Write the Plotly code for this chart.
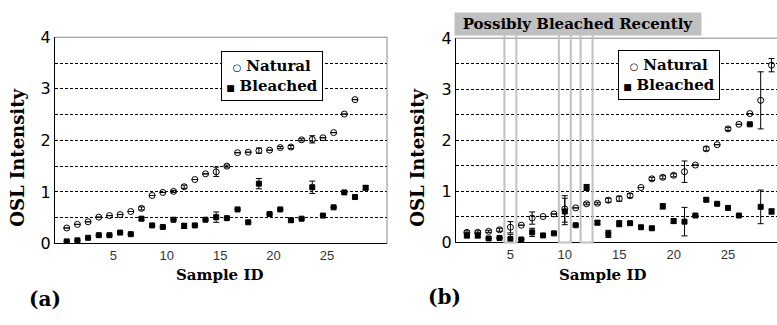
import plotly.graph_objects as go

# ---------------- data ----------------
ids_a_nat = list(range(1, 29))
nat_a = [0.30, 0.37, 0.42, 0.51, 0.54, 0.56, 0.62, 0.68, 0.93, 0.99, 1.01, 1.10, 1.24, 1.35,
         1.39, 1.50, 1.76, 1.77, 1.80, 1.81, 1.86, 1.87, 2.01, 2.02, 2.05, 2.15, 2.51, 2.79]
nat_a_err = [0, 0, 0, 0, 0, 0, 0, 0.03, 0, 0, 0.02, 0.03, 0, 0,
             0.09, 0.02, 0, 0, 0.05, 0, 0.02, 0.03, 0.02, 0.07, 0, 0, 0, 0]

ids_a_ble = list(range(1, 30))
ble_a = [0.04, 0.06, 0.11, 0.16, 0.16, 0.21, 0.18, 0.48, 0.35, 0.32, 0.46, 0.34, 0.35, 0.46,
         0.51, 0.49, 0.66, 0.41, 1.16, 0.57, 0.66, 0.45, 0.48, 1.09, 0.54, 0.70, 0.99, 0.90, 1.08]
ble_a_err = [0, 0, 0, 0, 0, 0, 0, 0.03, 0, 0, 0, 0.05, 0, 0,
             0.10, 0, 0, 0, 0.10, 0, 0, 0.04, 0, 0.12, 0, 0, 0, 0, 0.04]

ids_b = list(range(1, 30))
nat_b = [0.19, 0.19, 0.21, 0.24, 0.29, 0.33, 0.47, 0.50, 0.55, 0.65, 0.67, 0.75, 0.76, 0.82,
         0.85, 0.91, 1.07, 1.24, 1.27, 1.31, 1.38, 1.51, 1.83, 1.91, 2.22, 2.31, 2.52, 2.78, 3.47]
nat_b_err = [0.03, 0.03, 0.02, 0.03, 0.11, 0, 0.12, 0, 0, 0.26, 0, 0.02, 0.02, 0.04,
             0.05, 0.04, 0, 0.03, 0.03, 0.03, 0.21, 0, 0.04, 0, 0.03, 0, 0, 0.56, 0.13]
ble_b = [0.13, 0.13, 0.07, 0.08, 0.06, 0.05, 0.19, 0.13, 0.17, 0.60, 0.33, 1.07, 0.38, 0.16,
         0.36, 0.37, 0.29, 0.27, 0.70, 0.41, 0.40, 0.52, 0.83, 0.75, 0.67, 0.52, 2.31, 0.69, 0.60]
ble_b_err = [0.05, 0.05, 0, 0, 0.09, 0, 0.08, 0, 0, 0.26, 0, 0.06, 0.04, 0.07,
             0.06, 0.03, 0, 0, 0.05, 0.04, 0.28, 0, 0.03, 0, 0, 0, 0, 0.33, 0.05]

series_names = ["Natural", "Bleached"]
recent_samples = [5, 10, 12]
x_ticks = [5, 10, 15, 20, 25]
y_ticks = [0, 0.5, 1, 1.5, 2, 2.5, 3, 3.5, 4]
y_ticktext = ["0", "", "1", "", "2", "", "3", "", "4"]

W, H = 777, 325
SERIF = "DejaVu Serif"
SANS = "DejaVu Sans"

def px(v):
    return v / W

def py(v):
    return (H - v) / H

fig = go.Figure()

def add(x, y, err, name, xa, ya, sym, size):
    fig.add_trace(go.Scatter(
        x=x, y=y, mode="markers", name=name, xaxis=xa, yaxis=ya, showlegend=False,
        marker=dict(symbol=sym, size=size, color="black", line=dict(color="black", width=1)),
        error_y=dict(type="data", array=err, color="black", thickness=1, width=3, visible=True),
    ))

add(ids_a_nat, nat_a, nat_a_err, series_names[0], "x", "y", "circle-open", 6)
add(ids_a_ble, ble_a, ble_a_err, series_names[1], "x", "y", "square", 5)
add(ids_b, nat_b, nat_b_err, series_names[0], "x2", "y2", "circle-open", 6)
add(ids_b, ble_b, ble_b_err, series_names[1], "x2", "y2", "square", 5)

xcommon = dict(tickvals=x_ticks, showgrid=False, zeroline=False, showline=True,
               linecolor="black", linewidth=1, ticks="",
               tickfont=dict(family="Liberation Sans", size=13, color="#333"))
ycommon = dict(range=[0, 4], tickvals=y_ticks, ticktext=y_ticktext, showgrid=True,
               gridcolor="black", gridwidth=1, griddash="3px,2px", zeroline=False,
               showline=True, linecolor="black", linewidth=1, ticks="",
               tickfont=dict(family=SANS, size=16, color="black"))

fig.update_layout(
    width=W, height=H, margin=dict(l=0, r=0, t=0, b=0),
    paper_bgcolor="white", plot_bgcolor="white", showlegend=False,
    xaxis=dict(domain=[px(55), px(387)], range=[-0.1, 31.0], anchor="y",
               ticklabelshift=4, **xcommon),
    yaxis=dict(domain=[py(249), py(30)], anchor="x", **ycommon),
    xaxis2=dict(domain=[px(456), 1.0], range=[0, 29.5], anchor="y2", **xcommon),
    yaxis2=dict(domain=[py(247.5), py(31)], anchor="x2", **ycommon),
)

shapes = []
# gray top/right borders
shapes.append(dict(type="line", xref="x domain", yref="y domain", x0=0, x1=1, y0=1, y1=1,
                   line=dict(color="#888", width=1)))
shapes.append(dict(type="line", xref="x domain", yref="y domain", x0=1, x1=1, y0=0, y1=1,
                   line=dict(color="#888", width=1)))
shapes.append(dict(type="line", xref="x2 domain", yref="y2 domain", x0=0, x1=1, y0=1, y1=1,
                   line=dict(color="#888", width=1)))
for s in recent_samples:
    shapes.append(dict(type="rect", xref="x2", yref="paper", x0=s - 0.55, x1=s + 0.55,
                       y0=py(248), y1=py(26.5), line=dict(color="#c0c0c0", width=2),
                       fillcolor="rgba(0,0,0,0)"))
fig.update_layout(shapes=shapes)

ann = []
def text(x, y, t, size, angle=0, bg=None, **kw):
    d = dict(x=px(x), y=py(y), xref="paper", yref="paper", text=t, showarrow=False,
             xanchor="center", yanchor="middle", textangle=angle,
             font=dict(family=SERIF, size=size, color="black"))
    if bg:
        d.update(bgcolor=bg)
    d.update(kw)
    ann.append(d)

text(18, 158, "<b>OSL Intensity</b>", 18, angle=-90)
text(418, 158, "<b>OSL Intensity</b>", 18, angle=-90)
text(219, 283, "<b>Sample ID</b>", 15)
text(602, 283, "<b>Sample ID</b>", 15)
text(45, 308, "<b>(a)</b>", 20)
text(444, 306, "<b>(b)</b>", 20)
text(578, 16, "<b>Possibly Bleached Recently</b>", 15, bg="#c0c0c0", width=244, height=20)

legend_text = ("<span style='font-size:10px'>○</span> <b>%s</b><br>"
               "<span style='font-size:9px'>■</span> <b>%s</b>" % tuple(series_names))
for cx, cy in [(271.5, 71), (669, 70)]:
    text(cx, cy, legend_text, 15, bg="white", bordercolor="black", borderwidth=1,
         borderpad=2, width=96, height=44, align="center")
fig.update_layout(annotations=ann)

fig.write_html("out.html", config={"displayModeBar": False},
               post_script="document.body.style.margin='0';document.body.style.overflow='hidden';")
